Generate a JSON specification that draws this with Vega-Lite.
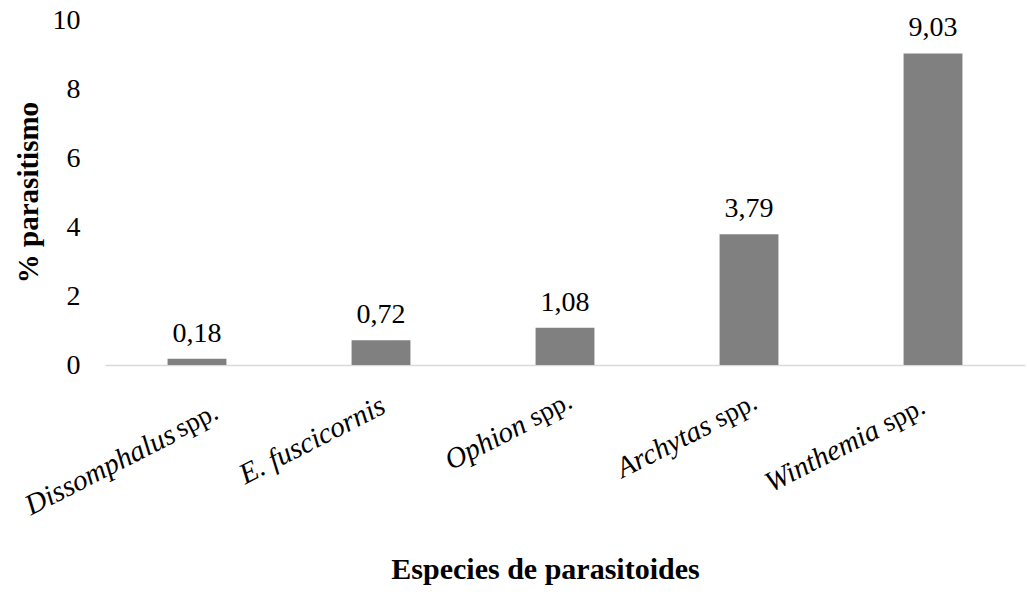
{
  "$schema": "https://vega.github.io/schema/vega-lite/v6.json",
  "width": 920,
  "height": 345,
  "autosize": "none",
  "padding": {"left": 105, "top": 20, "right": 2, "bottom": 229},
  "background": "white",
  "config": {
    "view": {"stroke": null},
    "font": "Liberation Serif, Times New Roman, DejaVu Serif, serif",
    "locale": {"number": {"decimal": ",", "thousands": ".", "grouping": [3], "currency": ["", ""]}}
  },
  "data": {
    "values": [
      {"especie": "Dissomphalus spp.", "parasitismo": 0.18},
      {"especie": "E. fuscicornis", "parasitismo": 0.72},
      {"especie": "Ophion spp.", "parasitismo": 1.08},
      {"especie": "Archytas spp.", "parasitismo": 3.79},
      {"especie": "Winthemia spp.", "parasitismo": 9.03}
    ]
  },
  "resolve": {"axis": {"x": "independent"}},
  "layer": [
    {
      "mark": {"type": "bar", "color": "#808080"},
      "encoding": {
        "x": {
          "field": "especie", "type": "nominal", "sort": null,
          "scale": {"paddingInner": 0.68, "paddingOuter": 0.34},
          "axis": {
            "orient": "bottom",
            "title": "Especies de parasitoides",
            "titleFont": "Liberation Serif, Times New Roman, serif", "titleFontSize": 30, "titleFontWeight": "bold", "titleColor": "#000000",
            "titleX": 440, "titleY": 213, "titleAlign": "center", "titleBaseline": "alphabetic",
            "domainColor": "#d9d9d9", "domainWidth": 1.5,
            "ticks": false, "tickSize": 0, "grid": false,
            "labelFont": "Liberation Serif, Times New Roman, serif", "labelFontSize": 29, "labelFontStyle": "italic", "labelColor": "#000000",
            "labelAngle": -27, "labelAlign": "right", "labelBaseline": "top",
            "labelExpr": "replace(datum.label, ' spp.', '')",
            "labelOffset": {"condition": [
              {"test": "datum.value == 'Dissomphalus spp.'", "value": -30},
              {"test": "datum.value == 'E. fuscicornis'", "value": -4},
              {"test": "datum.value == 'Ophion spp.'", "value": -47},
              {"test": "datum.value == 'Archytas spp.'", "value": -46}
            ], "value": -62},
            "labelPadding": {"condition": [
              {"test": "datum.value == 'Dissomphalus spp.'", "value": 55},
              {"test": "datum.value == 'E. fuscicornis'", "value": 26},
              {"test": "datum.value == 'Ophion spp.'", "value": 45},
              {"test": "datum.value == 'Archytas spp.'", "value": 46}
            ], "value": 50.5},
            "labelOverlap": false, "labelBound": false, "labelLimit": 0
          }
        },
        "y": {
          "field": "parasitismo", "type": "quantitative",
          "scale": {"domain": [0, 10], "nice": false},
          "axis": {
            "title": "% parasitismo",
            "titleFont": "Liberation Serif, Times New Roman, serif", "titleFontSize": 29, "titleFontWeight": "bold", "titleColor": "#000000",
            "titleX": -77, "titleY": 172, "titleAngle": -90, "titleAlign": "center", "titleBaseline": "middle",
            "values": [0, 2, 4, 6, 8, 10], "format": "d",
            "domain": false, "ticks": false, "tickSize": 0, "grid": false,
            "labelFont": "Liberation Serif, Times New Roman, serif", "labelFontSize": 28, "labelColor": "#000000", "labelPadding": 25
          }
        }
      }
    },
    {
      "mark": {"type": "text", "dy": -17, "baseline": "alphabetic", "fontSize": 28, "font": "Liberation Serif, Times New Roman, serif", "color": "#000000"},
      "encoding": {
        "x": {
          "field": "especie", "type": "nominal", "sort": null,
          "scale": {"paddingInner": 0.68, "paddingOuter": 0.34},
          "axis": {
            "orient": "bottom", "title": null, "domain": false,
            "ticks": false, "tickSize": 0, "grid": false,
            "labelFont": "Liberation Serif, Times New Roman, serif", "labelFontSize": 27, "labelFontStyle": "normal", "labelColor": "#000000",
            "labelAngle": -27, "labelAlign": "left", "labelBaseline": "top",
            "labelExpr": "indexof(datum.label, 'spp.') >= 0 ? 'spp.' : ''",
            "labelOffset": {"condition": [
              {"test": "datum.value == 'Dissomphalus spp.'", "value": -26},
              {"test": "datum.value == 'E. fuscicornis'", "value": 0},
              {"test": "datum.value == 'Ophion spp.'", "value": -40},
              {"test": "datum.value == 'Archytas spp.'", "value": -39}
            ], "value": -55},
            "labelPadding": {"condition": [
              {"test": "datum.value == 'Dissomphalus spp.'", "value": 53.5},
              {"test": "datum.value == 'E. fuscicornis'", "value": 26},
              {"test": "datum.value == 'Ophion spp.'", "value": 42.5},
              {"test": "datum.value == 'Archytas spp.'", "value": 43.5}
            ], "value": 48},
            "labelOverlap": false, "labelBound": false, "labelLimit": 0
          }
        },
        "y": {
          "field": "parasitismo", "type": "quantitative",
          "scale": {"domain": [0, 10], "nice": false},
          "axis": {
            "title": "% parasitismo",
            "titleFont": "Liberation Serif, Times New Roman, serif", "titleFontSize": 29, "titleFontWeight": "bold", "titleColor": "#000000",
            "titleX": -77, "titleY": 172, "titleAngle": -90, "titleAlign": "center", "titleBaseline": "middle",
            "values": [0, 2, 4, 6, 8, 10], "format": "d",
            "domain": false, "ticks": false, "tickSize": 0, "grid": false,
            "labelFont": "Liberation Serif, Times New Roman, serif", "labelFontSize": 28, "labelColor": "#000000", "labelPadding": 25
          }
        },
        "text": {"field": "parasitismo", "type": "quantitative", "format": ".2f"}
      }
    }
  ]
}
